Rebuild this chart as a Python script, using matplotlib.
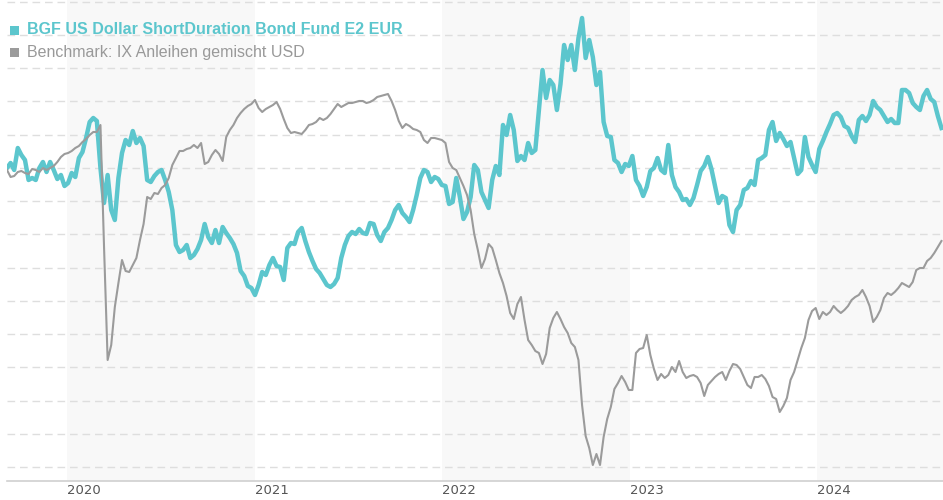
import matplotlib
matplotlib.use("Agg")
import matplotlib.pyplot as plt
from matplotlib.patches import Rectangle
import pandas as pd

start_date = "2019-09-06"

fund = [
    313, 318, 311, 333, 326, 321, 301, 303, 301, 313, 319, 309, 319, 311, 302, 306, 295, 298, 308, 304,
    323, 329, 343, 359, 363, 360, 313, 278, 306, 271, 261, 303, 328, 341, 336, 350, 338, 343, 335, 301,
    299, 305, 309, 311, 301, 289, 271, 236, 229, 231, 236, 223, 226, 232, 241, 257, 244, 238, 251, 238,
    254, 248, 243, 237, 228, 210, 205, 195, 193, 186, 196, 209, 206, 216, 223, 215, 214, 201, 233, 238,
    237, 249, 253, 240, 229, 220, 212, 208, 202, 196, 194, 197, 203, 223, 236, 245, 249, 247, 252, 248,
    247, 258, 257, 246, 240, 249, 253, 261, 271, 276, 268, 264, 259, 271, 286, 303, 311, 309, 299, 304,
    302, 296, 295, 277, 279, 303, 284, 262, 269, 284, 316, 311, 289, 281, 273, 301, 315, 306, 356, 346,
    366, 351, 320, 325, 321, 338, 328, 331, 371, 411, 383, 401, 396, 371, 397, 436, 421, 436, 411, 443,
    463, 423, 441, 424, 396, 409, 359, 345, 344, 321, 318, 309, 317, 315, 325, 301, 295, 285, 294, 310,
    313, 323, 311, 308, 336, 306, 294, 289, 281, 282, 276, 283, 296, 310, 315, 324, 312, 295, 278, 285,
    283, 256, 249, 271, 276, 291, 293, 300, 296, 321, 323, 326, 351, 359, 340, 348, 342, 335, 339, 323,
    307, 311, 344, 324, 316, 309, 332, 340, 349, 357, 366, 368, 364, 355, 353, 345, 339, 361, 365, 360,
    366, 380, 374, 371, 365, 359, 362, 358, 358, 391, 391, 388, 378, 374, 371, 385, 391, 382, 379, 365,
    353,
]

benchmark = [
    311, 304, 305, 309, 310, 308, 307, 312, 311, 309, 313, 311, 313, 315, 319, 324, 327, 328, 330, 333,
    335, 339, 342, 346, 349, 349, 356, 234, 121, 136, 174, 198, 221, 210, 209, 216, 223, 241, 257, 284,
    282, 288, 287, 293, 296, 303, 316, 323, 330, 330, 332, 333, 336, 333, 338, 317, 319, 326, 331, 327,
    320, 344, 351, 356, 363, 368, 372, 375, 377, 381, 373, 369, 372, 374, 376, 379, 372, 362, 353, 348,
    349, 348, 347, 351, 356, 357, 359, 363, 361, 363, 367, 372, 377, 374, 376, 378, 378, 379, 380, 380,
    378, 379, 381, 384, 385, 386, 387, 380, 371, 360, 353, 357, 355, 352, 351, 349, 341, 338, 343, 343,
    342, 341, 338, 319, 313, 311, 303, 295, 286, 271, 247, 231, 213, 222, 237, 233, 221, 208, 198, 185,
    168, 162, 177, 184, 161, 141, 136, 130, 128, 117, 127, 153, 163, 169, 162, 154, 148, 138, 134, 121,
    76, 45, 33, 16, 27, 16, 44, 62, 74, 92, 98, 105, 99, 91, 91, 128, 132, 133, 146, 126,
    112, 101, 107, 103, 106, 114, 109, 120, 109, 103, 105, 106, 104, 98, 85, 96, 100, 104, 107, 109,
    101, 110, 117, 116, 112, 104, 96, 93, 104, 104, 106, 102, 95, 84, 82, 69, 75, 83, 101, 109,
    121, 133, 143, 161, 170, 173, 162, 169, 166, 169, 175, 171, 168, 171, 175, 181, 184, 186, 191, 184,
    175, 159, 164, 171, 183, 188, 186, 189, 193, 198, 196, 194, 199, 211, 213, 213, 220, 223, 228, 234,
    240,
]

years = [2020, 2021, 2022, 2023, 2024]
shaded_years = [2020, 2022, 2024]
fund_label = "BGF US Dollar ShortDuration Bond Fund E2 EUR"
bench_label = "Benchmark: IX Anleihen gemischt USD"

teal = "#5cc6cd"
grey = "#9b9b9b"

dates = pd.date_range(start_date, periods=len(fund), freq="7D")
x_start = pd.Timestamp("2019-09-06")
x_end = pd.Timestamp("2024-09-02")

fig = plt.figure(figsize=(9.43, 5.0), dpi=100)
ax = fig.add_axes([7 / 943, 19 / 500, 936 / 943, 481 / 500])

for y in shaded_years:
    ax.axvspan(pd.Timestamp(f"{y}-01-01"), min(pd.Timestamp(f"{y+1}-01-01"), x_end),
               color="#f8f8f8", zorder=0, lw=0)

ax.plot(dates, fund, color=teal, lw=3.2, zorder=3, solid_joinstyle="round")
ax.plot(dates, benchmark, color=grey, lw=1.5, zorder=4, solid_joinstyle="round")

ax.set_xlim(x_start, x_end)
ax.set_ylim(0, 481)

grid_levels = [14 + 33.25 * k for k in range(15)]
ax.set_yticks(grid_levels)
ax.tick_params(axis="y", length=0, labelleft=False)
ax.yaxis.grid(True, color="#dedede", lw=1.0, linestyle=(0, (5.5, 3.5)), zorder=1)
ax.set_axisbelow(True)

ax.set_xticks([pd.Timestamp(f"{y}-01-01") for y in years])
ax.set_xticklabels([str(y) for y in years])
ax.tick_params(axis="x", length=0, pad=2, labelsize=9.5, labelcolor="#555555")
for lbl in ax.get_xticklabels():
    lbl.set_horizontalalignment("left")
    lbl.set_fontfamily("DejaVu Sans")

for s in ["left", "right", "top"]:
    ax.spines[s].set_visible(False)
ax.spines["bottom"].set_color("#d0d0d0")
ax.spines["bottom"].set_linewidth(1.2)

# Legend
fig.add_artist(Rectangle((10 / 943, 1 - 35 / 500), 9 / 943, 9 / 500,
                         transform=fig.transFigure, color=teal, lw=0))
fig.text(27 / 943, 1 - 30 / 500, fund_label, color=teal, fontsize=11.5,
         fontweight="bold", family="Liberation Sans", va="center", ha="left")
fig.add_artist(Rectangle((10 / 943, 1 - 57 / 500), 9 / 943, 9 / 500,
                         transform=fig.transFigure, color=grey, lw=0))
fig.text(27 / 943, 1 - 53 / 500, bench_label, color="#999999", fontsize=11.5,
         family="Liberation Sans", va="center", ha="left")

fig.savefig("out.png", dpi=100)
